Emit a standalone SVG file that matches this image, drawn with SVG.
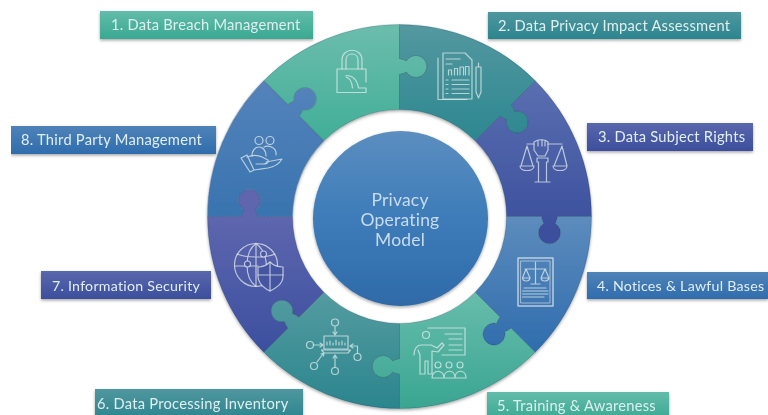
<svg xmlns="http://www.w3.org/2000/svg" xmlns:xlink="http://www.w3.org/1999/xlink" width="768" height="415" viewBox="0 0 768 415">
<style>
.lb{font-family:Lato,"Noto Sans",sans-serif;font-size:14.7px;fill:#e0eeef;letter-spacing:.25px}
.sm{font-size:14.2px}
.ic{fill:none;stroke:#e6eeee;stroke-opacity:.72;stroke-width:1.2;stroke-linecap:round;stroke-linejoin:round}
.ct{font-family:Lato,"Noto Sans",sans-serif;font-size:17.5px;fill:#c9dcec;text-anchor:middle;letter-spacing:.2px}
.pc{stroke:#12384f;stroke-opacity:.3;stroke-width:.7}
</style>
<defs>
<path id="piece" d="M-75.66-75.66L-100.41-100.41Q-97.58-104.65-97.01-106.91A11 11 0 1 0-105.22-115.12Q-107.48-114.55-111.72-111.72L-135.76-135.76A192 192 0 0 1 0-192L0-158Q5-157 7-155.8A11 11 0 1 1 7-144.2Q5-143 0-142L0-107A107 107 0 0 0-75.66-75.66Z"/>
<linearGradient id="g1" gradientUnits="userSpaceOnUse" x1="0" y1="-192" x2="0" y2="-75"><stop offset="0" stop-color="#6cbdac"/><stop offset="1" stop-color="#40ae98"/></linearGradient>
<linearGradient id="g2" gradientUnits="userSpaceOnUse" x1="0" y1="-192" x2="0" y2="-75" gradientTransform="rotate(-45)"><stop offset="0" stop-color="#5498a0"/><stop offset="1" stop-color="#2c8790"/></linearGradient>
<linearGradient id="g3" gradientUnits="userSpaceOnUse" x1="0" y1="-136" x2="0" y2="15" gradientTransform="rotate(-90)"><stop offset="0" stop-color="#5a6fb0"/><stop offset="1" stop-color="#3b4f9d"/></linearGradient>
<linearGradient id="g4" gradientUnits="userSpaceOnUse" x1="0" y1="0" x2="0" y2="136" gradientTransform="rotate(-135)"><stop offset="0" stop-color="#5d8cbd"/><stop offset="1" stop-color="#2f6cad"/></linearGradient>
<linearGradient id="g5" gradientUnits="userSpaceOnUse" x1="0" y1="75" x2="0" y2="192" gradientTransform="rotate(-180)"><stop offset="0" stop-color="#68bdac"/><stop offset="1" stop-color="#3aa592"/></linearGradient>
<linearGradient id="g6" gradientUnits="userSpaceOnUse" x1="0" y1="75" x2="0" y2="192" gradientTransform="rotate(-225)"><stop offset="0" stop-color="#549ca0"/><stop offset="1" stop-color="#2b858e"/></linearGradient>
<linearGradient id="g7" gradientUnits="userSpaceOnUse" x1="0" y1="0" x2="0" y2="136" gradientTransform="rotate(-270)"><stop offset="0" stop-color="#5e66ae"/><stop offset="1" stop-color="#3c4f9f"/></linearGradient>
<linearGradient id="g8" gradientUnits="userSpaceOnUse" x1="0" y1="-136" x2="0" y2="15" gradientTransform="rotate(-315)"><stop offset="0" stop-color="#5583bb"/><stop offset="1" stop-color="#3572ae"/></linearGradient>
<linearGradient id="gc" x1="0" y1="0" x2="0" y2="1"><stop offset="0" stop-color="#5c8ec0"/><stop offset=".5" stop-color="#3d7cb9"/><stop offset="1" stop-color="#2f6aa8"/></linearGradient>
<linearGradient id="l1" x1="0" y1="0" x2="0" y2="1"><stop offset="0" stop-color="#62bca9"/><stop offset="1" stop-color="#3aa992"/></linearGradient>
<linearGradient id="l2" x1="0" y1="0" x2="0" y2="1"><stop offset="0" stop-color="#4f979f"/><stop offset="1" stop-color="#2c858e"/></linearGradient>
<linearGradient id="l3" x1="0" y1="0" x2="0" y2="1"><stop offset="0" stop-color="#5a67ad"/><stop offset="1" stop-color="#3c4e9c"/></linearGradient>
<linearGradient id="l4" x1="0" y1="0" x2="0" y2="1"><stop offset="0" stop-color="#4f83b8"/><stop offset="1" stop-color="#2f6cad"/></linearGradient>
<filter id="sh" x="-10%" y="-10%" width="120%" height="125%"><feDropShadow dx="0" dy="1.5" stdDeviation="1.5" flood-color="#000" flood-opacity=".35"/></filter>
<filter id="soft" x="0" y="0" width="100%" height="100%"><feGaussianBlur stdDeviation=".55"/></filter>
</defs>
<rect width="768" height="415" fill="#fff"/>
<g filter="url(#soft)">
<g id="connectors"/>
<g filter="url(#sh)">
<g id="seg1" transform="translate(399.5 216.5)"><use href="#piece" class="pc" fill="url(#g1)"/></g>
<g id="seg2" transform="translate(399.5 216.5) rotate(45)"><use href="#piece" class="pc" fill="url(#g2)"/></g>
<g id="seg3" transform="translate(399.5 216.5) rotate(90)"><use href="#piece" class="pc" fill="url(#g3)"/></g>
<g id="seg4" transform="translate(399.5 216.5) rotate(135)"><use href="#piece" class="pc" fill="url(#g4)"/></g>
<g id="seg5" transform="translate(399.5 216.5) rotate(180)"><use href="#piece" class="pc" fill="url(#g5)"/></g>
<g id="seg6" transform="translate(399.5 216.5) rotate(225)"><use href="#piece" class="pc" fill="url(#g6)"/></g>
<g id="seg7" transform="translate(399.5 216.5) rotate(270)"><use href="#piece" class="pc" fill="url(#g7)"/></g>
<g id="seg8" transform="translate(399.5 216.5) rotate(315)"><use href="#piece" class="pc" fill="url(#g8)"/></g>
</g>
<g id="center"><circle cx="400.5" cy="218.5" r="87.5" fill="url(#gc)" filter="url(#sh)"/>
<text class="ct" x="400" y="205.500">Privacy</text><text class="ct" x="400" y="225.500">Operating</text><text class="ct" x="400" y="245.500">Model</text></g>

<g id="icon1" class="ic"><path d="M366 82V69H337V92.500H366V88H358.500C357.500 82 354 75.500 346 75.500M346 77C350 78 352 83 352.500 88"/><path d="M342 69V60C342 47 362 47 362 60V69M346 69V60C346 52 358 52 358 60V69"/></g>
<g id="icon2" class="ic"><path d="M443 53H465L472 60V99H443Z"/><path d="M438 58V99.500H467"/><path d="M446 59H460M446 64H452M448.500 75V70H451.500V75M454.500 75V68.500H457.500V75M460 75V67H463.500V75M465.500 75V66.500H469V75M452 80H469M452 84.500H469M452 89H469M452 93.500H469M446 80H448M446 84.500H448M446 89H448M446 93.500H448"/><path d="M476 67H481V92L478.500 98L476 92ZM478.500 63V67"/></g>
<g id="icon3" class="ic"><path d="M534 142C538 139 545 139 548 142V150L545 156H538L534 150Z"/><path d="M537 158H548V162H546.500V182H538.500V162H537ZM535 182H550M527 144H534M548 144H562"/><path d="M527 146L521 166M527 146L533 166M520 166H534C534 172 520 172 520 166ZM562 146L554 166M562 146L567 166M553 166H567C567 172 553 172 553 166ZM538 146V141M542 146V140M545 146V141"/></g>
<g id="icon4" class="ic"><rect x="518" y="258" width="35" height="48" stroke-width="1.500"/><rect x="521" y="261" width="29" height="42" stroke-width=".8"/><path d="M535.500 262V283M525 269H546M526 269L522.500 278M526 269L530 278M522.500 278C523 282 529.500 282 530 278ZM545 269L541 278M545 269L549 278M541 278C541.500 282 548 282 549 278ZM531 284H540M524 288H546M522.500 291H548M522.500 294H548M522.500 297H544"/></g>
<g id="icon5" class="ic"><path d="M428 328H465V355H442"/><path d="M445 334H462M449 339H462M449 345H462M449 350H462"/><circle cx="426" cy="335" r="3.500"/><path d="M414 355C414 349 417 345 421 345H431L437 348L442 343L444 345L438 352L432 351V374H428V361H425V374H420V355L418 350"/><circle cx="438" cy="365" r="3"/><circle cx="449" cy="365" r="3"/><circle cx="460" cy="365" r="3"/><path d="M432 378C432 369 444 369 444 378ZM444 378C444 369 455 369 455 378ZM455 378C455 369 466 369 466 378Z"/></g>
<g id="icon6" class="ic"><circle cx="335" cy="322.500" r="3.500"/><circle cx="310" cy="345" r="3.500"/><circle cx="357.500" cy="357" r="3.500"/><circle cx="314" cy="366" r="3.500"/><circle cx="335" cy="371" r="3.500"/><rect x="324" y="336" width="24" height="13"/><path d="M321.500 350H350.500L348 353H324ZM327 345V342M330 345V341M333 345V343M336 345V340M339 345V342M342 345V341M345 345V343M335 326.500V334M333 332L335 335L337 332M314 345H322M320 343L323 345L320 347M357.500 353V346H351M353 344L350 346L353 348M317 362L323 354M321 354L324 353L323.500 356M335 367V356M333 358L335 355L337 358"/></g>
<g id="icon7" class="ic"><circle cx="256" cy="265" r="21.500"/><path d="M256 243.500C244 252 244 278 256 286.500M256 243.500C268 252 268 270 264 282M256 243.500V286.500M237 254C246 258 266 258 275 254M235 266H258"/><circle cx="247.500" cy="264" r="3" fill="#4957a5"/><circle cx="263.500" cy="254" r="3" fill="#4957a5"/><path d="M270 262C273 265 278 267 283 267V276C283 284 276 288 270 291C264 288 258 284 258 276V267C262 267 267 265 270 262Z" fill="#4454a2"/><path d="M270 262V291M258 275H283"/></g>
<g id="icon8" class="ic"><circle cx="259" cy="140.500" r="4"/><circle cx="270" cy="140.500" r="4"/><path d="M252 156C252 144 266 144 266 156M264 147C268 145 277 147 276 155"/><path d="M241 158L247 155L254 170L250 172ZM247 157C252 155 258 155 262 157L268 160C269 163 266 164 263 164H256M266 162L282 159C279 164 274 167 268 168L254 170"/></g>

<g filter="url(#sh)">
<g id="label1"><rect x="100" y="11" width="213" height="28" fill="url(#l1)"/><text class="lb" x="111" y="30">1. Data Breach Management</text></g>
<g id="label2"><rect x="488" y="12" width="253" height="27" fill="url(#l2)"/><text class="lb" x="498" y="31">2. Data Privacy Impact Assessment</text></g>
<g id="label3"><rect x="587" y="123" width="166" height="28" fill="url(#l3)"/><text class="lb" x="598" y="142">3. Data Subject Rights</text></g>
<g id="label4"><rect x="587" y="272" width="181" height="27" fill="url(#l4)"/><text class="lb sm" x="597" y="291">4. Notices &amp; Lawful Bases</text></g>
<g id="label5"><rect x="487" y="392" width="182" height="28" fill="url(#l1)"/><text class="lb" x="497" y="411">5. Training &amp; Awareness</text></g>
<g id="label6"><rect x="95" y="389" width="208" height="30" fill="url(#l2)"/><text class="lb" x="97" y="409">6. Data Processing Inventory</text></g>
<g id="label7"><rect x="41" y="271" width="170" height="28" fill="url(#l3)"/><text class="lb sm" x="52" y="291">7. Information Security</text></g>
<g id="label8"><rect x="11" y="126" width="205" height="28" fill="url(#l4)"/><text class="lb" x="21" y="145">8. Third Party Management</text></g>
</g>
</g>
</svg>
